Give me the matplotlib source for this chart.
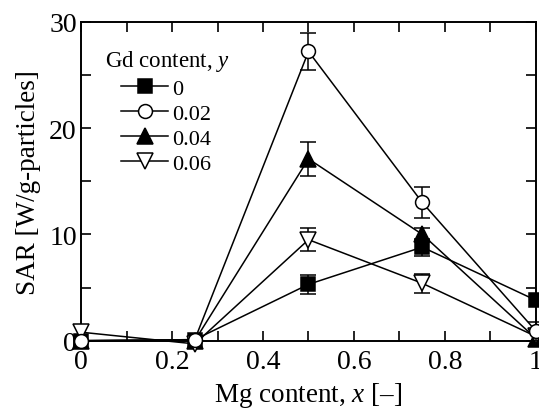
import matplotlib
matplotlib.use("Agg")
import matplotlib.pyplot as plt
import numpy as np
from matplotlib.ticker import MultipleLocator

plt.rcParams['font.family'] = ['Liberation Serif', 'DejaVu Serif']
plt.rcParams['mathtext.fontset'] = 'custom'
plt.rcParams['mathtext.rm'] = 'Liberation Serif'
plt.rcParams['mathtext.it'] = 'Liberation Serif:italic'

x = [0, 0.25, 0.5, 0.75, 1.0]
labels = ['0', '0.02', '0.04', '0.06']
sar_0 = [0.0, 0.1, 5.3, 8.8, 3.8]
err_0 = [0.0, 0.0, 0.9, 0.8, 0.0]
sar_002 = [0.0, 0.1, 27.2, 13.0, 0.9]
err_002 = [0.0, 0.0, 1.7, 1.45, 0.9]
sar_004 = [0.0, 0.0, 17.1, 10.0, 0.2]
err_004 = [0.0, 0.0, 1.6, 0.6, 0.0]
sar_006 = [0.8, -0.3, 9.5, 5.4, 0.4]
err_006 = [0.0, 0.0, 1.1, 0.9, 0.0]

series = [
    (sar_0, err_0, 's', 'black', 3),
    (sar_004, err_004, '^', 'black', 4),
    (sar_006, err_006, 'v', 'white', 5),
    (sar_002, err_002, 'o', 'white', 6),
]
legend_order = [0, 3, 1, 2]

W, H = 539, 410
fig = plt.figure(figsize=(5.39, 4.10), dpi=100)
ax = fig.add_axes([0.1503, 0.1666, 0.8441, 0.778])

handles = []
for (y, e, m, fc, z) in series:
    ms = 10 if m in 'so' else 11
    xa = np.array(x); ya = np.array(y); ea = np.array(e)
    nz = ea > 0
    ax.errorbar(xa[nz], ya[nz], yerr=ea[nz], fmt='none', ecolor='black',
                capsize=6, capthick=1.1, elinewidth=1.1, clip_on=False, zorder=z)
    h, = ax.plot(x, y, '-', color='black', lw=1.1, marker=m, ms=ms, mfc=fc,
                 mec='black', mew=1.1, clip_on=False, zorder=z + 0.5)
    handles.append(h)

ax.set_xlim(0, 1)
ax.set_ylim(0, 30)
ax.set_xticks([0, 0.2, 0.4, 0.6, 0.8, 1.0])
ax.set_xticklabels(['0', '0.2', '0.4', '0.6', '0.8', '1'])
ax.xaxis.set_minor_locator(MultipleLocator(0.1))
ax.yaxis.set_major_locator(MultipleLocator(10))
ax.yaxis.set_minor_locator(MultipleLocator(5))
ax.tick_params(which='both', direction='in', top=True, right=True,
               length=7, width=1.2, labelsize=20)
ax.tick_params(axis='x', pad=6)
ax.tick_params(axis='y', pad=3)
for s in ax.spines.values():
    s.set_linewidth(1.4)

ax.set_xlabel('Mg content, $\\mathit{x}$ [–]', fontsize=19.5, labelpad=4)
ax.set_ylabel('SAR [W/g-particles]', fontsize=19.5, labelpad=6)

fig.text(105 / W, 1 - 62 / H, 'Gd content, $\\mathit{y}$', fontsize=16.5,
         ha='left', va='center')
leg = ax.legend([handles[i] for i in legend_order], labels,
                loc='upper left', bbox_to_anchor=(117 / W, 1 - 75 / H),
                bbox_transform=fig.transFigure, frameon=False, fontsize=16,
                handlelength=2.1, handletextpad=0.2,
                labelspacing=0.2, borderpad=0.2, borderaxespad=0)

fig.savefig('out.png', dpi=100)
